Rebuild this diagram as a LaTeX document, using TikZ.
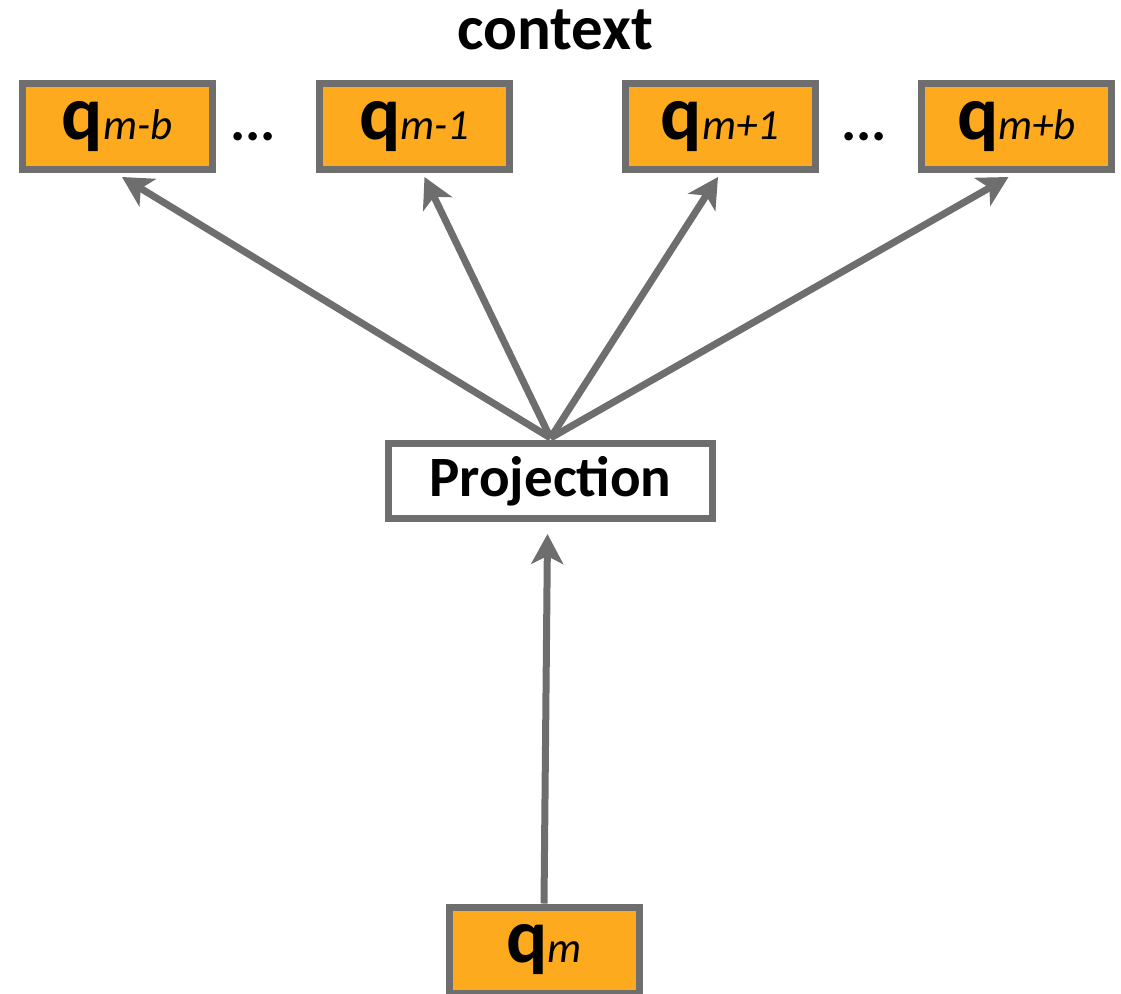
\documentclass[tikz,border=0pt]{standalone}
\usepackage{fontspec}
\setmainfont{Carlito}
\usetikzlibrary{arrows.meta,calc}
\definecolor{boxorange}{HTML}{FDAA1E}
\definecolor{edgegray}{HTML}{6E6E6E}
\tikzset{
  qbox/.style={draw=edgegray, line width=7pt, fill=boxorange, minimum width=190pt, minimum height=86pt, inner sep=0pt},
  projbox/.style={draw=edgegray, line width=7pt, fill=white, minimum width=324pt, minimum height=75pt, inner sep=0pt},
  conn/.style={draw=edgegray, line width=7pt, -{Stealth[length=30pt,width=32pt,inset=8pt]}},
  dots/.style={font=\fontsize{57}{57}\selectfont\bfseries},
}
\newcommand{\qlab}[1]{\raisebox{-5pt}{{\fontsize{77}{77}\selectfont\bfseries q}{\fontsize{43}{43}\selectfont\itshape #1}}}
\begin{document}
\begin{tikzpicture}[x=1pt,y=-1pt]
\useasboundingbox (0,0) rectangle (1121,993);
\node[font=\fontsize{63}{63}\selectfont\bfseries] (ctx) at (555,30) {context};
\node[qbox] (b1) at (117,126.5) {\qlab{m-b}};
\node[qbox] (b2) at (414.5,126.5) {\qlab{m-1}};
\node[qbox] (b3) at (720,126.5) {\qlab{m+1}};
\node[qbox] (b4) at (1016.5,126.5) {\qlab{m+b}};
\node[dots] (d1) at (253,137) {...};
\node[dots] (d2) at (864,137) {...};
\node[projbox] (p) at (550.5,481) {\fontsize{57}{57}\selectfont\bfseries Projection};
\node[qbox] (bm) at (544,950) {\qlab{m}};
\coordinate (top) at ($(p.north)+(0,-2)$);
\draw[conn] (top) -- ($(b1.south)+(5,4)$);
\draw[conn] (top) -- ($(b2.south)+(10,4)$);
\draw[conn] (top) -- ($(b3.south)+(-2,4)$);
\draw[conn] (top) -- ($(b4.south)+(-8,4)$);
\draw[conn] (bm.north) -- ($(p.south)+(-3,12)$);
\end{tikzpicture}
\end{document}
